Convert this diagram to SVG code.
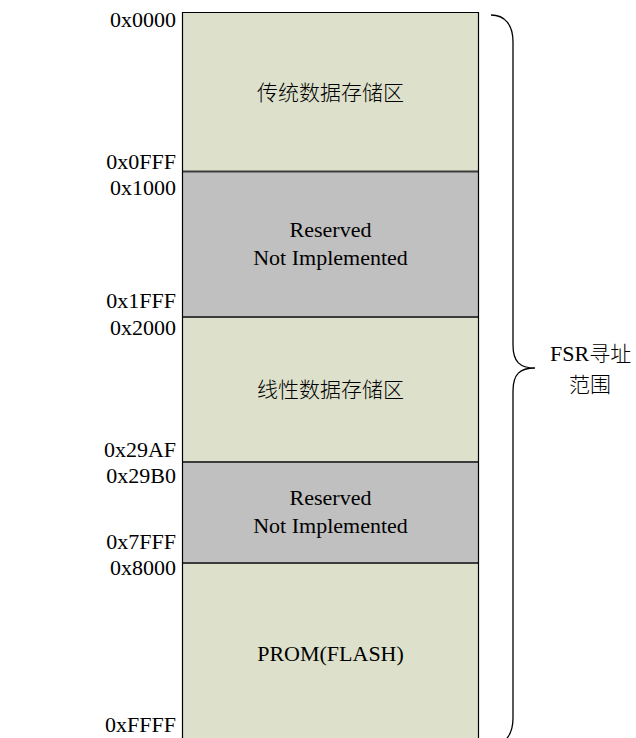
<svg xmlns="http://www.w3.org/2000/svg" width="636" height="738" viewBox="0 0 636 738">
  <style>
    .g { fill: #dde0cb; }
    .r { fill: #c0c0c0; }
    .edge { fill: none; stroke: #000; stroke-width: 1.2; }
    .div { stroke: #3c3c3c; stroke-width: 2; }
    .t { font-family: "Liberation Serif", "Noto Sans CJK SC", serif; font-size: 22px; fill: #000; }
    .c { text-anchor: middle; }
    .a { text-anchor: end; }
    .cjk { font-family: "Noto Sans CJK SC", "Liberation Serif", sans-serif; font-size: 21px; font-weight: 300; fill: #000; text-anchor: middle; }
    .brace { fill: none; stroke: #000; stroke-width: 1.3; }
  </style>
  <rect width="636" height="738" fill="#fff"/>

  <g id="sec-legacy">
    <rect class="g" x="182" y="12.5" width="297" height="159"/>
    <text class="cjk" x="330.5" y="100">传统数据存储区</text>
  </g>
  <g id="sec-reserved1">
    <rect class="r" x="182" y="171.5" width="297" height="145.5"/>
    <text class="t c" x="330.5" y="237">Reserved</text>
    <text class="t c" x="330.5" y="265">Not Implemented</text>
  </g>
  <g id="sec-linear">
    <rect class="g" x="182" y="317" width="297" height="145"/>
    <text class="cjk" x="330.5" y="397">线性数据存储区</text>
  </g>
  <g id="sec-reserved2">
    <rect class="r" x="182" y="462" width="297" height="101"/>
    <text class="t c" x="330.5" y="505">Reserved</text>
    <text class="t c" x="330.5" y="533">Not Implemented</text>
  </g>
  <g id="sec-prom">
    <rect class="g" x="182" y="563" width="297" height="180"/>
    <text class="t c" x="330.5" y="661">PROM(FLASH)</text>
  </g>

  <g id="frame">
    <line class="div" x1="182" y1="171.5" x2="479" y2="171.5"/>
    <line class="div" x1="182" y1="317" x2="479" y2="317"/>
    <line class="div" x1="182" y1="462" x2="479" y2="462"/>
    <line class="div" x1="182" y1="563" x2="479" y2="563"/>
    <path class="edge" d="M182.5 745 V12.5 H478.5 V745"/>
  </g>

  <g id="addresses">
    <text class="t a" x="176" y="27">0x0000</text>
    <text class="t a" x="176" y="169">0x0FFF</text>
    <text class="t a" x="176" y="195">0x1000</text>
    <text class="t a" x="176" y="308">0x1FFF</text>
    <text class="t a" x="176" y="335">0x2000</text>
    <text class="t a" x="176" y="457">0x29AF</text>
    <text class="t a" x="176" y="483">0x29B0</text>
    <text class="t a" x="176" y="549">0x7FFF</text>
    <text class="t a" x="176" y="575">0x8000</text>
    <text class="t a" x="176" y="732">0xFFFF</text>
  </g>

  <g id="connectors">
    <path class="brace" d="M491 15 C505 15 513 25 513 42 L513 345 C513 362 520 368 535 368 C520 368 513 374 513 391 L513 718 C513 735 505 745 491 745"/>
  </g>

  <g id="fsr-label">
    <text class="t" x="550" y="361"><tspan>FSR</tspan><tspan font-family="Noto Sans CJK SC, sans-serif" font-size="21" font-weight="300">寻址</tspan></text>
    <text class="cjk" x="590" y="392">范围</text>
  </g>
</svg>
